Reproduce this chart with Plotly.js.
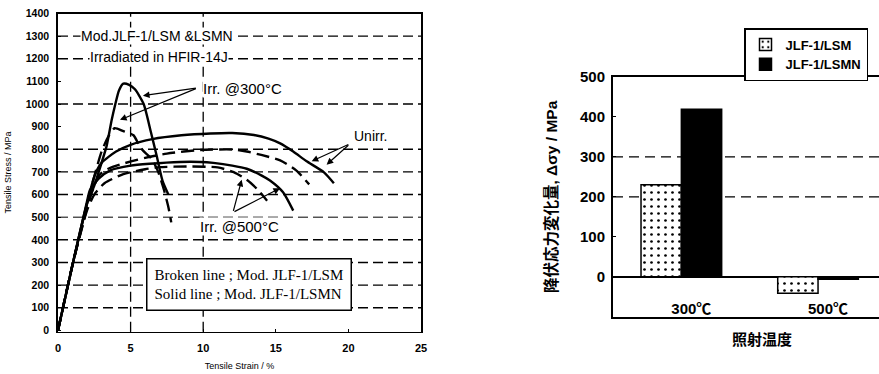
<!DOCTYPE html>
<html>
<head>
<meta charset="utf-8">
<script src="https://cdn.plot.ly/plotly-3.0.1.min.js"></script>
<style>html,body{margin:0;padding:0;background:#fff;}#chart{width:879px;height:374px;}</style>
</head>
<body>
<div id="chart"></div>
<script>
// ---- Left chart: tensile curves (strain %, stress MPa) ----
const strainIrr300N = [0, 1.0, 2.0, 2.5, 3.0, 3.35, 3.7, 3.95, 4.2, 4.5, 4.9, 5.3, 5.9, 6.4, 6.8, 7.2, 7.6];
const stressIrr300N = [0, 290, 560, 640, 740, 815, 930, 1000, 1060, 1090, 1085, 1065, 1000, 875, 770, 660, 600];
const strainIrr300M = [0, 1.0, 2.0, 2.5, 3.0, 3.5, 3.9, 4.5, 5.2, 5.65, 6.0, 6.45, 6.9, 7.3, 7.6, 7.8];
const stressIrr300M = [0, 290, 550, 680, 790, 860, 893, 880, 862, 810, 785, 758, 700, 620, 545, 477];
const strainUnirrN = [0, 1.0, 2.0, 2.5, 3.0, 4.0, 5.0, 6.5, 8.5, 10.5, 12.0, 13.5, 14.5, 15.3, 16.2, 17.1, 18.3, 19.0];
const stressUnirrN = [0, 290, 560, 680, 740, 790, 820, 845, 862, 870, 872, 863, 847, 826, 790, 748, 699, 650];
const strainUnirrM = [0, 1.0, 2.0, 2.5, 2.9, 3.5, 4.5, 6.0, 7.5, 9.8, 12.1, 13.0, 14.0, 15.3, 16.4, 17.3];
const stressUnirrM = [0, 290, 540, 640, 690, 715, 737, 762, 781, 797, 799, 790, 775, 751, 707, 645];
const strainIrr500N = [0, 1.0, 2.0, 2.2, 2.8, 3.6, 5.0, 6.3, 8.4, 9.8, 10.7, 12.0, 13.0, 14.0, 14.6, 15.5, 16.2];
const stressIrr500N = [0, 290, 570, 620, 670, 707, 728, 736, 744, 744, 740, 728, 714, 685, 662, 610, 529];
const strainIrr500M = [0, 1.0, 2.0, 2.5, 3.2, 4.5, 6.0, 7.0, 9.0, 11.0, 12.1, 13.0, 13.7, 14.4];
const stressIrr500M = [0, 290, 530, 600, 650, 690, 712, 721, 724, 720, 699, 665, 625, 573];

const leftXTicks = [0, 5, 10, 15, 20, 25];
const leftGridY = [100, 200, 300, 400, 500, 600, 700, 800, 1000, 1200, 1300];
const leftGridX = [5, 10];

// ---- Right chart: yield stress change ----
const categories = ['300℃', '500℃'];
const lsmValues = [230, -41];
const lsmnValues = [419, -6];
const rightGridY = [200, 300];

const sans = 'Liberation Sans, Arial, sans-serif';
const cjk = 'Liberation Sans, Noto Sans CJK JP, sans-serif';
const serif = 'Liberation Serif, Times New Roman, serif';

function curve(x, y, dashed) {
  return {
    x: x, y: y, type: 'scatter', mode: 'lines', xaxis: 'x', yaxis: 'y',
    line: {color: '#000', width: 2.4, dash: dashed ? '13px,6px' : 'solid', shape: 'spline', smoothing: 0.6},
    showlegend: false, hoverinfo: 'skip'
  };
}

const traces = [
  curve(strainIrr300N, stressIrr300N, false),
  curve(strainIrr300M, stressIrr300M, true),
  curve(strainUnirrN, stressUnirrN, false),
  curve(strainUnirrM, stressUnirrM, true),
  curve(strainIrr500N, stressIrr500N, false),
  curve(strainIrr500M, stressIrr500M, true),
  {
    x: categories, y: lsmValues, type: 'bar', name: 'JLF-1/LSM', xaxis: 'x2', yaxis: 'y2',
    marker: {color: '#fff', line: {color: '#000', width: 1.5},
      pattern: {shape: '.', fgcolor: '#000', bgcolor: '#fff', size: 7, solidity: 0.12}}
  },
  {
    x: categories, y: lsmnValues, type: 'bar', name: 'JLF-1/LSMN', xaxis: 'x2', yaxis: 'y2',
    marker: {color: '#000', line: {color: '#000', width: 1.5}}
  }
];

const shapes = [];
leftGridY.forEach(v => shapes.push({type: 'line', xref: 'x domain', yref: 'y', x0: 0, x1: 1, y0: v, y1: v,
  line: {color: '#000', width: v === 500 ? 1 : 1.4, dash: '10px,5px'}, layer: 'below'}));
leftGridX.forEach(v => shapes.push({type: 'line', xref: 'x', yref: 'y domain', x0: v, x1: v, y0: 0, y1: 1,
  line: {color: '#000', width: 1.3, dash: '10px,5px'}, layer: 'below'}));
rightGridY.forEach(v => shapes.push({type: 'line', xref: 'x2 domain', yref: 'y2', x0: 0, x1: 1, y0: v, y1: v,
  line: {color: '#000', width: 1.4, dash: '10px,6px'}, layer: 'below'}));

function arrow(tipX, tipY, tailX, tailY) {
  return {x: tipX, y: tipY, ax: tailX, ay: tailY, xref: 'x', yref: 'y', axref: 'x', ayref: 'y',
    text: '', showarrow: true, arrowhead: 2, arrowsize: 1.1, arrowwidth: 1.2, arrowcolor: '#000', standoff: 0};
}

const annotations = [
  {x: 6.85, y: 1302, xref: 'x', yref: 'y', text: 'Mod.JLF-1/LSM &LSMN', showarrow: false,
    font: {family: sans, size: 14, color: '#000'}, bgcolor: '#fff', borderpad: 0},
  {x: 6.95, y: 1209, xref: 'x', yref: 'y', text: 'Irradiated in HFIR-14J', showarrow: false,
    font: {family: sans, size: 14, color: '#000'}, bgcolor: '#fff', borderpad: 0},
  {x: 9.95, y: 1068, xref: 'x', yref: 'y', xanchor: 'left', text: 'Irr. @300°C', showarrow: false,
    font: {family: sans, size: 15, color: '#000'}, bgcolor: '#fff', borderpad: 0},
  arrow(5.85, 1037, 9.6, 1071),
  arrow(4.27, 930, 9.6, 1071),
  {x: 21.5, y: 859, xref: 'x', yref: 'y', text: 'Unirr.', showarrow: false,
    font: {family: sans, size: 14, color: '#000'}},
  arrow(17.47, 747, 20.1, 824),
  arrow(18.5, 732, 20.1, 824),
  {x: 12.5, y: 459, xref: 'x', yref: 'y', text: 'Irr. @500°C', showarrow: false,
    font: {family: sans, size: 15, color: '#000'}, bgcolor: '#fff', borderpad: 0},
  arrow(12.65, 665, 12.05, 521),
  arrow(15.29, 628, 12.05, 521),
  {x: 13.15, y: 204, xref: 'x', yref: 'y', align: 'left', showarrow: false,
    text: 'Broken line ; Mod. JLF-1/LSM<br>Solid line ; Mod. JLF-1/LSMN',
    font: {family: serif, size: 15, color: '#000'}, bgcolor: '#fff', bordercolor: '#000', borderwidth: 1.5, borderpad: 7},
  {x: 762 / 879, y: 1 - 339 / 374, xref: 'paper', yref: 'paper', xanchor: 'center', yanchor: 'middle',
    text: '<b>照射温度</b>', showarrow: false,
    font: {family: cjk, size: 15, color: '#000'}}
];

const layout = {
  width: 879, height: 374,
  margin: {l: 0, r: 0, t: 0, b: 0},
  paper_bgcolor: '#fff', plot_bgcolor: '#fff',
  showlegend: true,
  barmode: 'group', bargap: 0.41, bargroupgap: 0,
  xaxis: {
    domain: [58 / 879, 421 / 879], range: [0, 25], tickvals: leftXTicks,
    showgrid: false, zeroline: false, showline: true, mirror: true, linecolor: '#000', linewidth: 1.5,
    ticks: 'inside', ticklen: 3, tickcolor: '#000', ticklabelstandoff: 6,
    tickfont: {family: sans, size: 11, color: '#000', weight: 'bold'},
    title: {text: 'Tensile Strain / %', font: {family: sans, size: 9, color: '#000'}, standoff: 9},
    anchor: 'y', fixedrange: true
  },
  yaxis: {
    domain: [1 - 331.7 / 374, 1 - 13.5 / 374], range: [-6, 1400], tick0: 0, dtick: 100,
    showgrid: false, zeroline: false, showline: true, mirror: true, linecolor: '#000', linewidth: 1.8,
    ticks: 'inside', ticklen: 3, tickcolor: '#000', ticklabelstandoff: 5,
    tickfont: {family: sans, size: 10.5, color: '#000', weight: 'bold'},
    title: {text: 'Tensile Stress / MPa', font: {family: sans, size: 9, color: '#000'}, standoff: 12},
    anchor: 'x', fixedrange: true
  },
  xaxis2: {
    domain: [613 / 879, 1], type: 'category', range: [-0.5, 1.446],
    showgrid: false, zeroline: false, showline: true, mirror: true, linecolor: '#000', linewidth: 2,
    ticks: '', ticklabelposition: 'inside', ticklabelshift: 10,
    tickfont: {family: cjk, size: 15, color: '#000', weight: 'bold'},
    anchor: 'y2', fixedrange: true
  },
  yaxis2: {
    domain: [1 - 316.7 / 374, 1 - 77 / 374], range: [-100, 500], tick0: 0, dtick: 100,
    showgrid: false, zeroline: true, zerolinecolor: '#000', zerolinewidth: 1.6,
    showline: true, mirror: true, linecolor: '#000', linewidth: 2,
    ticks: 'inside', ticklen: 3, tickcolor: '#000', ticklabelstandoff: 3,
    tickfont: {family: sans, size: 15, color: '#000', weight: 'bold'},
    title: {text: '降伏応力変化量, Δσy / MPa', font: {family: cjk, size: 15.5, color: '#000', weight: 'bold'}, standoff: 10},
    anchor: 'x2', fixedrange: true
  },
  legend: {
    x: 744 / 879, y: 1 - 28 / 374, xanchor: 'left', yanchor: 'top',
    bgcolor: '#fff', bordercolor: '#000', borderwidth: 1.5,
    font: {family: sans, size: 13, color: '#000', weight: 'bold'},
    itemwidth: 30, tracegroupgap: 0
  },
  shapes: shapes,
  annotations: annotations
};

Plotly.newPlot('chart', traces, layout, {displayModeBar: false, staticPlot: true});
</script>
</body>
</html>
